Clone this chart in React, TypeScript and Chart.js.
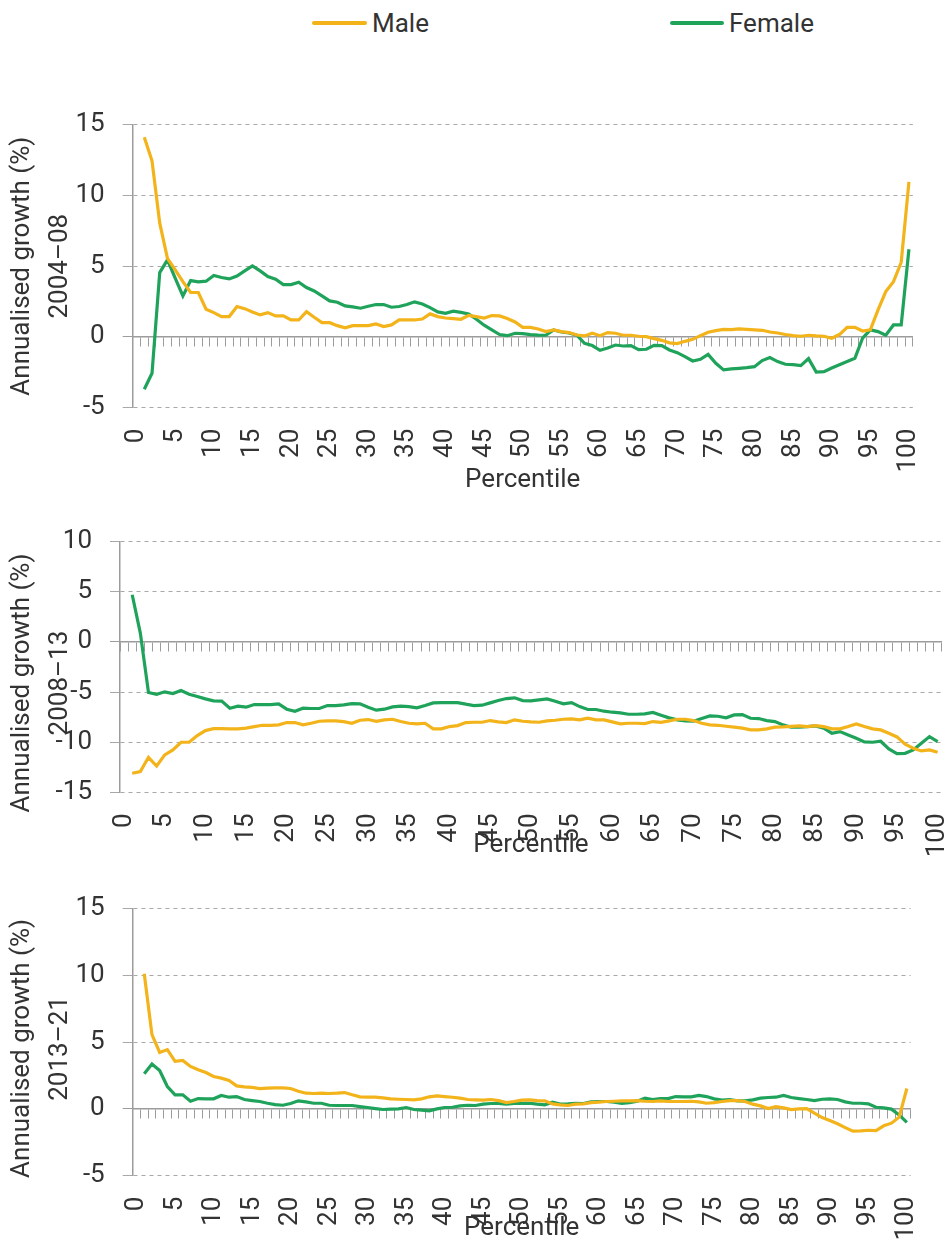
import React, { useEffect, useRef } from 'react';
import { Chart, registerables } from 'chart.js';

Chart.register(...registerables);

// ---------- data ----------
const percentiles = [
  0, 1, 2, 3, 4, 5, 6, 7, 8, 9, 10, 11, 12, 13, 14, 15, 16, 17, 18, 19, 20,
  21, 22, 23, 24, 25, 26, 27, 28, 29, 30, 31, 32, 33, 34, 35, 36, 37, 38, 39, 40,
  41, 42, 43, 44, 45, 46, 47, 48, 49, 50, 51, 52, 53, 54, 55, 56, 57, 58, 59, 60,
  61, 62, 63, 64, 65, 66, 67, 68, 69, 70, 71, 72, 73, 74, 75, 76, 77, 78, 79, 80,
  81, 82, 83, 84, 85, 86, 87, 88, 89, 90, 91, 92, 93, 94, 95, 96, 97, 98, 99, 100,
];

const seriesNames = ['Male', 'Female'];
const periods = ['2004–08', '2008–13', '2013–21'];
const yTitle = 'Annualised growth (%)';
const xTitle = 'Percentile';

// values for percentiles 1..100
const male0408 = [
  14.12, 12.45, 8.04, 5.56, 4.74, 3.91, 3.14, 3.14, 1.96, 1.72,
  1.44, 1.44, 2.15, 2.0, 1.77, 1.56, 1.72, 1.49, 1.49, 1.2,
  1.2, 1.79, 1.39, 1.01, 1.01, 0.8, 0.64, 0.8, 0.8, 0.8,
  0.92, 0.73, 0.85, 1.2, 1.2, 1.2, 1.27, 1.63, 1.44, 1.34,
  1.3, 1.25, 1.53, 1.44, 1.34, 1.51, 1.49, 1.3, 1.06, 0.68,
  0.68, 0.56, 0.38, 0.5, 0.38, 0.31, 0.14, 0.07, 0.26, 0.09,
  0.31, 0.26, 0.12, 0.12, 0.05, 0.02, -0.12, -0.24, -0.42, -0.47,
  -0.31, -0.17, 0.09, 0.33, 0.45, 0.54, 0.52, 0.57, 0.54, 0.5,
  0.47, 0.35, 0.28, 0.17, 0.09, 0.05, 0.12, 0.07, 0.05, -0.09,
  0.17, 0.68, 0.68, 0.42, 0.5, 1.91, 3.21, 3.91, 5.28, 10.96,
];
const female0408 = [
  -3.7, -2.57, 4.55, 5.45, 4.15, 2.9, 3.98, 3.89, 3.94, 4.34,
  4.2, 4.1, 4.31, 4.67, 5.02, 4.67, 4.27, 4.08, 3.7, 3.7,
  3.87, 3.49, 3.25, 2.9, 2.55, 2.45, 2.19, 2.12, 2.03, 2.17,
  2.29, 2.29, 2.1, 2.15, 2.29, 2.48, 2.33, 2.07, 1.77, 1.67,
  1.82, 1.74, 1.63, 1.25, 0.83, 0.5, 0.17, 0.09, 0.26, 0.24,
  0.17, 0.13, 0.12, 0.5, 0.35, 0.28, 0.12, -0.45, -0.61, -0.94,
  -0.78, -0.57, -0.64, -0.61, -0.9, -0.87, -0.59, -0.61, -0.92, -1.11,
  -1.39, -1.7, -1.58, -1.23, -1.86, -2.33, -2.26, -2.22, -2.17, -2.1,
  -1.67, -1.46, -1.74, -1.93, -1.96, -2.03, -1.53, -2.48, -2.45, -2.19,
  -1.96, -1.74, -1.51, -0.09, 0.5, 0.38, 0.12, 0.85, 0.85, 6.2,
];
const male0813 = [
  -13.09, -12.92, -11.5, -12.36, -11.26, -10.76, -10.0, -10.0, -9.34, -8.84,
  -8.64, -8.64, -8.67, -8.67, -8.6, -8.44, -8.31, -8.31, -8.27, -8.04,
  -8.04, -8.27, -8.11, -7.91, -7.87, -7.87, -7.94, -8.11, -7.81, -7.74,
  -7.91, -7.77, -7.71, -7.94, -8.11, -8.17, -8.11, -8.67, -8.67, -8.44,
  -8.34, -8.04, -8.01, -8.01, -7.84, -7.97, -8.04, -7.77, -7.91, -7.97,
  -8.01, -7.87, -7.81, -7.71, -7.67, -7.77, -7.61, -7.77, -7.77, -7.97,
  -8.17, -8.11, -8.11, -8.14, -7.94, -8.01, -7.87, -7.71, -7.71, -7.84,
  -8.11, -8.27, -8.31, -8.41, -8.5, -8.6, -8.77, -8.77, -8.67, -8.5,
  -8.47, -8.41, -8.37, -8.44, -8.34, -8.44, -8.67, -8.67, -8.44, -8.17,
  -8.44, -8.67, -8.77, -9.1, -9.47, -10.2, -10.6, -10.86, -10.76, -11.0,
];
const female0813 = [
  4.68, 0.86, -5.05, -5.22, -4.98, -5.15, -4.85, -5.22, -5.45, -5.68,
  -5.88, -5.91, -6.61, -6.41, -6.51, -6.25, -6.25, -6.25, -6.18, -6.71,
  -6.91, -6.61, -6.64, -6.64, -6.35, -6.35, -6.28, -6.15, -6.18, -6.51,
  -6.81, -6.71, -6.48, -6.41, -6.45, -6.58, -6.35, -6.08, -6.05, -6.05,
  -6.05, -6.21, -6.35, -6.31, -6.08, -5.85, -5.65, -5.58, -5.85, -5.88,
  -5.78, -5.68, -5.91, -6.18, -6.05, -6.45, -6.74, -6.74, -6.91, -7.01,
  -7.08, -7.21, -7.21, -7.18, -7.04, -7.31, -7.57, -7.77, -7.87, -7.91,
  -7.64, -7.38, -7.41, -7.57, -7.28, -7.24, -7.61, -7.64, -7.84, -7.94,
  -8.27, -8.5, -8.5, -8.44, -8.37, -8.6, -9.1, -8.94, -9.27, -9.6,
  -9.97, -10.0, -9.9, -10.66, -11.13, -11.1, -10.76, -10.1, -9.44, -9.93,
];
const male1321 = [
  10.1, 5.55, 4.22, 4.43, 3.55, 3.62, 3.17, 2.92, 2.72, 2.42,
  2.3, 2.12, 1.72, 1.65, 1.6, 1.52, 1.55, 1.57, 1.57, 1.52,
  1.32, 1.17, 1.15, 1.17, 1.15, 1.17, 1.22, 1.05, 0.9, 0.87,
  0.87, 0.82, 0.75, 0.72, 0.7, 0.67, 0.75, 0.9, 0.97, 0.92,
  0.87, 0.8, 0.7, 0.67, 0.65, 0.7, 0.62, 0.47, 0.55, 0.65,
  0.67, 0.62, 0.6, 0.37, 0.3, 0.25, 0.35, 0.37, 0.47, 0.5,
  0.55, 0.57, 0.6, 0.6, 0.62, 0.57, 0.55, 0.6, 0.55, 0.55,
  0.55, 0.57, 0.52, 0.42, 0.47, 0.55, 0.62, 0.62, 0.55, 0.35,
  0.22, 0.02, 0.17, 0.07, -0.05, 0.0, 0.02, -0.32, -0.65, -0.87,
  -1.12, -1.4, -1.67, -1.65, -1.6, -1.62, -1.27, -1.07, -0.62, 1.52,
];
const female1321 = [
  2.62, 3.35, 2.87, 1.67, 1.05, 1.05, 0.57, 0.77, 0.75, 0.75,
  1.0, 0.87, 0.92, 0.7, 0.62, 0.55, 0.42, 0.32, 0.27, 0.4,
  0.6, 0.52, 0.42, 0.42, 0.27, 0.25, 0.25, 0.25, 0.17, 0.1,
  0.02, -0.05, -0.02, 0.0, 0.1, -0.05, -0.1, -0.15, 0.0, 0.1,
  0.12, 0.22, 0.27, 0.25, 0.35, 0.4, 0.4, 0.35, 0.4, 0.41,
  0.42, 0.35, 0.3, 0.5, 0.35, 0.37, 0.42, 0.4, 0.52, 0.55,
  0.55, 0.5, 0.4, 0.47, 0.57, 0.8, 0.7, 0.77, 0.77, 0.92,
  0.9, 0.9, 1.0, 0.92, 0.75, 0.65, 0.7, 0.6, 0.6, 0.67,
  0.8, 0.85, 0.87, 1.0, 0.85, 0.77, 0.7, 0.62, 0.72, 0.75,
  0.7, 0.52, 0.42, 0.42, 0.37, 0.12, 0.07, -0.02, -0.45, -1.02,
];

const yRange0408 = [-5, 15];
const yRange0813 = [-15, 10];
const yRange1321 = [-5, 15];

// ---------- style ----------
const MALE_COLOR = '#F3B31B';
const FEMALE_COLOR = '#1FA35B';
const TEXT_COLOR = '#333333';
const GRID_COLOR = '#a8a8a8';
const AXIS_COLOR = '#9c9c9c';
const FONT_FAMILY = 'Roboto, "Liberation Sans", sans-serif';
const TICK_SIZE = 26;
const TITLE_SIZE = 26;
const W = 950;

type PanelSpec = {
  period: string;
  male: number[];
  female: number[];
  range: number[];
  canvasTop: number;
  canvasHeight: number;
  left: number;
  right: number;
  top: number;
  bottom: number;
  xTitleY: number;
  titlePad: string;
};

const panels: PanelSpec[] = [
  { period: periods[0], male: male0408, female: female0408, range: yRange0408,
    canvasTop: 50, canvasHeight: 460, left: 132.7, right: 912.8, top: 124.7, bottom: 407.7, xTitleY: 480, titlePad: '' },
  { period: periods[1], male: male0813, female: female0813, range: yRange0813,
    canvasTop: 500, canvasHeight: 370, left: 120, right: 941.7, top: 541.3, bottom: 792.5, xTitleY: 845, titlePad: '     ' },
  { period: periods[2], male: male1321, female: female1321, range: yRange1321,
    canvasTop: 860, canvasHeight: 382, left: 132.7, right: 910.7, top: 908.3, bottom: 1175.7, xTitleY: 1228, titlePad: '  ' },
];

function buildConfig(p: PanelSpec): any {
  const xTitleLH = TITLE_SIZE * 1.2;
  const canvasBottom = p.canvasTop + p.canvasHeight;
  const padBottom = canvasBottom - p.xTitleY - xTitleLH / 2;
  const xHeight = canvasBottom - padBottom - p.bottom;
  const labels = percentiles.map(String);
  return {
    type: 'line',
    data: {
      labels,
      datasets: [
        {
          label: seriesNames[0],
          data: [null, ...p.male],
          borderColor: MALE_COLOR,
          backgroundColor: MALE_COLOR,
          borderWidth: 3.2,
          pointRadius: 0,
          tension: 0,
          xAxisID: 'x',
          yAxisID: 'y',
        },
        {
          label: seriesNames[1],
          data: [null, ...p.female],
          borderColor: FEMALE_COLOR,
          backgroundColor: FEMALE_COLOR,
          borderWidth: 3.2,
          pointRadius: 0,
          tension: 0,
          xAxisID: 'x',
          yAxisID: 'y',
        },
      ],
    },
    options: {
      animation: false,
      responsive: false,
      maintainAspectRatio: false,
      layout: {
        padding: { top: p.top - p.canvasTop, right: W - p.right, bottom: padBottom, left: 0 },
      },
      plugins: {
        legend: { display: false },
        tooltip: { enabled: false },
      },
      scales: {
        x: {
          type: 'category',
          position: 'bottom',
          offset: true,
          grid: { display: false, drawTicks: false },
          border: { display: false },
          ticks: {
            autoSkip: false,
            minRotation: 90,
            maxRotation: 90,
            padding: 21,
            color: TEXT_COLOR,
            font: { family: FONT_FAMILY, size: TICK_SIZE },
            callback: (_v: any, i: number) => (i % 5 === 0 ? String(percentiles[i]) : ''),
          },
          title: {
            display: true,
            text: xTitle,
            color: TEXT_COLOR,
            font: { family: FONT_FAMILY, size: TITLE_SIZE, lineHeight: 1.2 },
            padding: 0,
          },
          afterFit: (s: any) => {
            s.height = xHeight;
            s.paddingLeft = 0;
            s.paddingRight = 0;
          },
        },
        x0: {
          type: 'category',
          position: { y: 0 },
          offset: true,
          grid: {
            offset: true,
            drawOnChartArea: false,
            drawTicks: true,
            tickLength: 9,
            color: AXIS_COLOR,
            tickColor: AXIS_COLOR,
            lineWidth: 1,
          },
          border: { display: true, color: AXIS_COLOR, width: 1.5 },
          ticks: { display: false, autoSkip: false },
          afterFit: (s: any) => {
            s.paddingLeft = 0;
            s.paddingRight = 0;
          },
        },
        y: {
          type: 'linear',
          position: 'left',
          min: p.range[0],
          max: p.range[1],
          ticks: {
            stepSize: 5,
            padding: 18,
            color: TEXT_COLOR,
            font: { family: FONT_FAMILY, size: TICK_SIZE },
          },
          grid: {
            color: (c: any) => (c.tick && c.tick.value === 0 ? AXIS_COLOR : GRID_COLOR),
            lineWidth: 1,
            tickLength: 10,
          },
          border: {
            display: true,
            color: AXIS_COLOR,
            width: 1.5,
            dash: (c: any) => (c.tick && c.tick.value === 0 ? [] : [4, 4]),
          },
          title: {
            display: true,
            text: [yTitle + p.titlePad, p.period + p.titlePad],
            color: TEXT_COLOR,
            font: { family: FONT_FAMILY, size: TITLE_SIZE, lineHeight: 1.46 },
            padding: { top: 4, bottom: 0 },
          },
          afterFit: (s: any) => {
            s.width = p.left;
            s.paddingTop = 0;
            s.paddingBottom = 0;
          },
        },
      },
    },
  };
}

function Panel({ spec }: { spec: PanelSpec }) {
  const ref = useRef<HTMLCanvasElement | null>(null);
  useEffect(() => {
    if (!ref.current) return;
    const chart = new Chart(ref.current, buildConfig(spec));
    return () => chart.destroy();
  }, [spec]);
  return (
    <canvas
      ref={ref}
      width={W}
      height={spec.canvasHeight}
      style={{ position: 'absolute', left: 0, top: spec.canvasTop, width: W, height: spec.canvasHeight, display: 'block' }}
    />
  );
}

function LegendItem({ x, lineW, color, text }: { x: number; lineW: number; color: string; text: string }) {
  return (
    <>
      <div style={{ position: 'absolute', left: x, top: 21, width: lineW, height: 4, borderRadius: 2, background: color }} />
      <div
        style={{
          position: 'absolute',
          left: x + lineW + 5,
          top: 8,
          height: 30,
          lineHeight: '30px',
          fontSize: TITLE_SIZE,
          fontFamily: FONT_FAMILY,
          color: TEXT_COLOR,
          whiteSpace: 'nowrap',
        }}
      >
        {text}
      </div>
    </>
  );
}

export default function App() {
  return (
    <div style={{ position: 'absolute', left: 0, top: 0, width: W, height: 1242, background: '#ffffff', overflow: 'hidden' }}>
      <LegendItem x={312} lineW={55} color={MALE_COLOR} text={seriesNames[0]} />
      <LegendItem x={670} lineW={54} color={FEMALE_COLOR} text={seriesNames[1]} />
      {panels.map((p) => (
        <Panel key={p.period} spec={p} />
      ))}
    </div>
  );
}
